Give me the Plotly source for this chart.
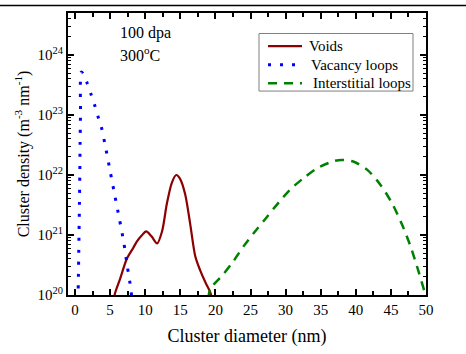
import plotly.graph_objects as go

# ---- data ----
void_x = [5.4, 5.7, 6.42, 7.37, 8.32, 8.8, 9.5, 10.13, 10.9, 11.7, 12.4, 13.08, 13.79, 14.41, 14.95, 15.69, 16.4, 17.12, 17.83, 18.6, 19.26, 19.6]
void_y = [7.0e19, 1.07e20, 1.86e20, 3.98e20, 6.17e20, 7.76e20, 9.8e20, 1.15e21, 9.5e20, 7.24e20, 1.15e21, 3.31e21, 7.41e21, 1.0e22, 8.7e21, 4.79e21, 1.55e21, 4.47e20, 2.57e20, 1.6e20, 1.12e20, 8.0e19]

vac_x = [0.42, 0.47, 0.52, 0.57, 0.63, 0.68, 0.72, 0.78, 0.9, 1.2, 1.67, 2.24, 2.76, 3.23, 3.75, 4.42, 5.04, 5.7, 6.32, 6.94, 7.42, 7.94, 8.1]
vac_y = [8.0e19, 1.6e20, 4.0e20, 1.07e21, 3.2e21, 1.0e22, 3.2e22, 1.0e23, 5.2e23, 4.8e23, 3.55e23, 2.29e23, 1.51e23, 9.8e22, 6.3e22, 2.63e22, 1.1e22, 4.37e21, 1.86e21, 7.6e20, 3.16e20, 1.29e20, 8.5e19]

int_x = [19.0, 19.27, 21.16, 22.6, 24.0, 25.44, 27.34, 29.0, 30.67, 32.57, 34.47, 36.85, 38.0, 39.7, 41.6, 43.5, 45.2, 46.6, 47.8, 48.97, 49.8, 50.0]
int_y = [8.5e19, 1.26e20, 2.24e20, 3.72e20, 6.46e20, 1.07e21, 2.0e21, 3.47e21, 5.75e21, 8.9e21, 1.29e22, 1.7e22, 1.78e22, 1.66e22, 1.23e22, 6.9e21, 3.31e21, 1.48e21, 6.46e20, 2.4e20, 1.12e20, 9.0e19]

series_names = ["Voids", "Vacancy loops", "Interstitial loops"]

x_tickvals = [0, 5, 10, 15, 20, 25, 30, 35, 40, 45, 50]
x_ticktext = ["0", "5", "10", "15", "20", "25", "30", "35", "40", "45", "50"]
y_tickvals = [1e20, 1e21, 1e22, 1e23, 1e24]
y_ticktext = ["10<sup>20</sup>", "10<sup>21</sup>", "10<sup>22</sup>", "10<sup>23</sup>", "10<sup>24</sup>"]

FONT = "Liberation Serif, Times New Roman, serif"
styles = [
    dict(color="#8B0000", width=2.2),
    dict(color="#0000FF", width=3, dash="3px,9px"),
    dict(color="#008000", width=2.5, dash="9px,7px"),
]

fig = go.Figure()
for name, xs, ys, st in zip(series_names, [void_x, vac_x, int_x], [void_y, vac_y, int_y], styles):
    fig.add_trace(go.Scatter(x=xs, y=ys, mode="lines", name=name, showlegend=False,
                             line=dict(shape="spline", smoothing=0.8, **st)))

fig.update_layout(
    width=466, height=354,
    margin=dict(l=68, r=40, t=11, b=54),
    plot_bgcolor="white", paper_bgcolor="white",
    font=dict(family=FONT, size=15, color="black"),
    showlegend=False,
    xaxis=dict(range=[-1, 50], tickvals=x_tickvals, ticktext=x_ticktext,
               ticks="inside", ticklen=6, tickwidth=2, tickcolor="black",
               showline=True, linecolor="black", linewidth=2, mirror="ticks",
               showgrid=False, zeroline=False,
               minor=dict(ticks="inside", dtick=2.5, tick0=0, ticklen=4, tickwidth=1.5, tickcolor="black", showgrid=False),
               title=dict(text="Cluster diameter (nm)", font=dict(family=FONT, size=18), standoff=12),
               tickfont=dict(family=FONT, size=15)),
    yaxis=dict(type="log", range=[20, 24.7], tickvals=y_tickvals, ticktext=y_ticktext,
               ticks="inside", ticklen=6, tickwidth=2, tickcolor="black",
               showline=True, linecolor="black", linewidth=2, mirror="ticks",
               showgrid=False, zeroline=False,
               minor=dict(ticks="inside", dtick="D1", ticklen=3, tickwidth=1.2, tickcolor="black", showgrid=False),
               title=dict(text="Cluster density (m<sup>-3</sup> nm<sup>-1</sup>)", font=dict(family=FONT, size=16), standoff=4),
               tickfont=dict(family=FONT, size=15)),
)

fig.add_annotation(text="100 dpa", xref="paper", yref="paper", x=0.14, y=0.93,
                   xanchor="left", yanchor="middle", showarrow=False, font=dict(family=FONT, size=16))
fig.add_annotation(text="300<sup>o</sup>C", xref="paper", yref="paper", x=0.14, y=0.853,
                   xanchor="left", yanchor="middle", showarrow=False, font=dict(family=FONT, size=16))

# legend drawn as a compact box (matching the reference's tight entry spacing)
fig.add_shape(type="rect", xref="paper", yref="paper", x0=0.5335, x1=0.9637, y0=0.7232, y1=0.9273,
              line=dict(color="#808080", width=1), fillcolor="white", layer="above")
leg_y = [0.8824, 0.8166, 0.7509]
leg_tx = [0.667, 0.672, 0.679]
for name, st, ly, tx in zip(series_names, styles, leg_y, leg_tx):
    fig.add_shape(type="line", xref="paper", yref="paper", x0=0.5587, x1=0.6536, y0=ly, y1=ly,
                  line=st, layer="above")
    fig.add_annotation(text=name, xref="paper", yref="paper", x=tx, y=ly, xanchor="left", yanchor="middle",
                       showarrow=False, font=dict(family=FONT, size=15))

# thin rule across the top of the page, as in the reference
fig.add_shape(type="line", xref="paper", yref="paper", x0=-0.2, x1=1.2, y0=1.027, y1=1.027,
              line=dict(color="black", width=1.5))

fig.write_html("out.html")
